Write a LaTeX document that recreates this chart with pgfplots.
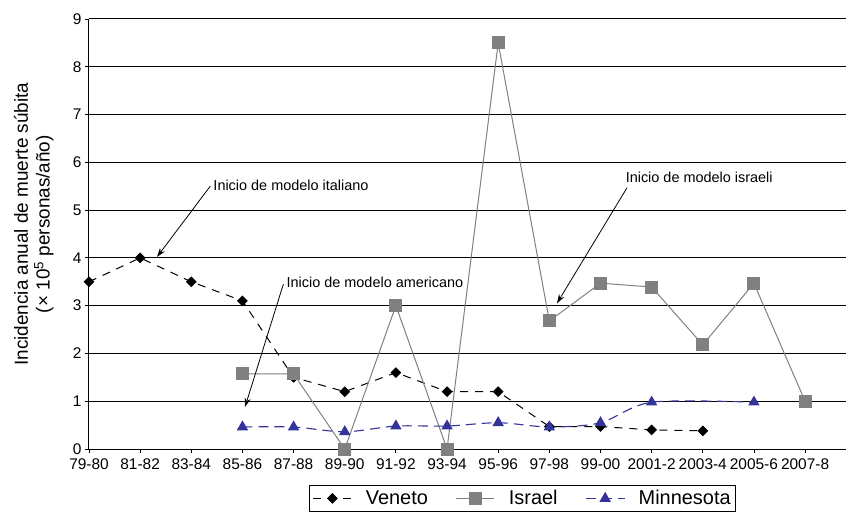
\documentclass[border=0pt]{standalone}
\usepackage{pgfplots}
\pgfplotsset{compat=1.18}
\usepackage{fontspec}
\setmainfont{Liberation Sans}
\usetikzlibrary{arrows.meta}
\definecolor{isr}{HTML}{808080}
\definecolor{minn}{HTML}{333399}

\begin{document}
\begin{tikzpicture}
\begin{axis}[
  name=ax,
  width=757bp, height=430bp, scale only axis,
  clip=false,
  xmin=0, xmax=14.8, ymin=0, ymax=9,
  xtick={0,...,14},
  xticklabels={79-80,81-82,83-84,85-86,87-88,89-90,91-92,93-94,95-96,97-98,99-00,2001-2,2003-4,2005-6,2007-8},
  ytick={0,...,9},
  axis x line*=bottom, axis y line*=left,
  ymajorgrids, grid style={black, line width=1bp},
  tick align=outside, major tick length=4bp,
  tick style={black, line width=0.8bp},
  axis line style={black, line width=1bp},
  ticklabel style={font=\fontsize{15.5}{18}\selectfont},
  xticklabel style={yshift=-2bp},
  /pgf/number format/assume math mode=true,
  ylabel={Incidencia anual de muerte súbita\\(× 10\textsuperscript{5} personas/año)},
  ylabel style={align=center, font=\fontsize{19}{22}\selectfont,
    at={(axis description cs:-0.073,0.523)}, anchor=center},
  legend style={at={(0.573,-0.084)}, anchor=north, legend columns=-1,
    draw=black, line width=0.8bp, inner xsep=3bp, inner ysep=3bp,
    font=\fontsize{20}{24}\selectfont,
    /tikz/every odd column/.append style={column sep=12bp},
    /tikz/every even column/.append style={column sep=26bp}},
  legend image code/.code={\draw[mark repeat=2,mark phase=2] plot coordinates {(0bp,0bp)(19bp,0bp)(38bp,0bp)};},
]
\addplot[black, line width=1bp, dash pattern=on 8bp off 7bp,
  mark=square*, mark size=3.3bp, mark options={solid, fill=black, rotate=45}]
  coordinates {(0,3.5)(1,4.0)(2,3.5)(3,3.1)(4,1.5)(5,1.2)(6,1.6)(7,1.2)(8,1.2)(9,0.47)(10,0.47)(11,0.4)(12,0.38)};
\addlegendentry{Veneto}
\addplot[isr, line width=1bp,
  mark=square*, mark size=6bp, mark options={solid, fill=isr}]
  coordinates {(3,1.57)(4,1.57)(5,0)(6,3.0)(7,0)(8,8.5)(9,2.68)(10,3.47)(11,3.39)(12,2.18)(13,3.47)(14,1.0)};
\addlegendentry{Israel}
\addplot[minn, line width=1.1bp, dash pattern=on 10bp off 6bp, smooth, tension=0.5,
  mark=triangle*, mark size=5.5bp, mark options={solid, fill=minn}]
  coordinates {(3,0.46)(4,0.46)(5,0.36)(6,0.48)(7,0.48)(8,0.55)(9,0.46)(10,0.55)(11,0.98)(13,0.98)};
\addlegendentry{Minnesota}

\draw[-{Stealth[length=9bp,width=6bp]}, line width=0.8bp] (axis cs:2.37,5.50) -- (axis cs:1.33,4.02);
\node[anchor=west, inner sep=0pt, font=\fontsize{14.5}{17}\selectfont] at (axis cs:2.43,5.52) {Inicio de modelo italiano};
\draw[-{Stealth[length=9bp,width=6bp]}, line width=0.8bp] (axis cs:3.80,3.45) -- (axis cs:3.05,0.88);
\node[anchor=west, inner sep=0pt, font=\fontsize{14.5}{17}\selectfont] at (axis cs:3.86,3.49) {Inicio de modelo americano};
\draw[-{Stealth[length=9bp,width=6bp]}, line width=0.8bp] (axis cs:10.52,5.47) -- (axis cs:9.15,3.05);
\node[anchor=west, inner sep=0pt, font=\fontsize{14.5}{17}\selectfont] at (axis cs:10.49,5.69) {Inicio de modelo israeli};
\end{axis}
\pgfresetboundingbox
\path[use as bounding box] ([shift={(-89bp,-70bp)}]ax.south west) rectangle ([shift={(0bp,19bp)}]ax.north east);
\end{tikzpicture}
\end{document}
